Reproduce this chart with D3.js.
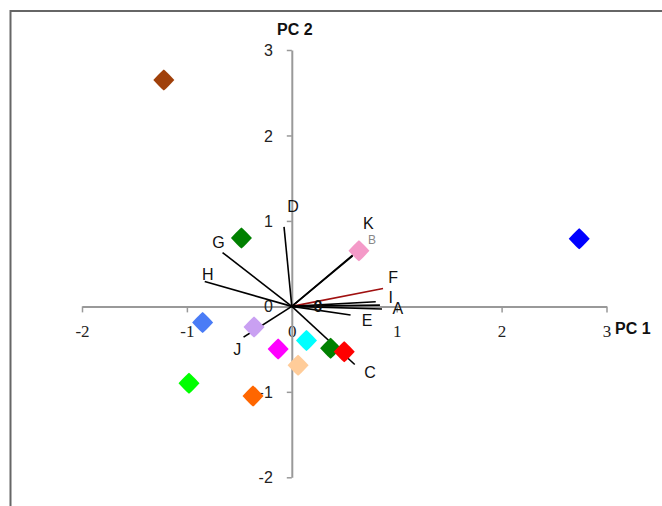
<!DOCTYPE html>
<html><head><meta charset="utf-8">
<script src="https://cdn.jsdelivr.net/npm/d3@7"></script>
<style>body{margin:0;background:#fff}svg{display:block}</style>
</head><body>
<svg id="chart" width="662" height="506"></svg>
<script>
// Scores (diamonds)
const pointX = [-1.22, 2.74, -0.48, 0.64, -0.85, -0.36, -0.13, 0.14, 0.37, 0.50, 0.06, -0.98, -0.37];
const pointY = [2.65, 0.79, 0.80, 0.65, -0.19, -0.24, -0.50, -0.40, -0.49, -0.53, -0.69, -0.90, -1.05];
const pointColors = ["#a0400a", "#0000ff", "#008000", "#f49ac8", "#4a7cf6", "#c9a0f2", "#ff00ff", "#00ffff", "#008000", "#ff0000", "#ffcc99", "#00ff00", "#ff6600"];

// Loadings (vectors from origin)
const varNames = ["D", "G", "H", "K", "B", "F", "I", "A", "A2", "E", "C", "J"];
const loadX = [-0.074, -0.66, -0.83, 0.60, 0.58, 0.87, 0.80, 0.84, 0.86, 0.56, 0.60, -0.46];
const loadY = [0.93, 0.63, 0.29, 0.62, 0.59, 0.21, 0.055, 0.015, -0.03, -0.10, -0.68, -0.36];
const loadColors = ["#000", "#000", "#000", "#000", "#000", "#a01010", "#000", "#000", "#000", "#000", "#000", "#000"];

// Variable labels
const labelText = ["D", "G", "H", "K", "B", "F", "I", "A", "E", "C", "J", "0"];
const labelX = [0.011, -0.70, -0.80, 0.730, 0.765, 0.965, 0.943, 1.012, 0.717, 0.745, -0.52, 0.25];
const labelY = [1.17, 0.75, 0.38, 0.97, 0.78, 0.34, 0.11, -0.02, -0.16, -0.77, -0.50, 0.00];

const xTicks = [-2, -1, 0, 1, 2, 3];
const yTicks = [-2, -1, 0, 1, 2, 3];

const svg = d3.select("#chart");
const x = d3.scaleLinear().domain([-2, 3]).range([82, 606.5]);
const y = d3.scaleLinear().domain([-2, 3]).range([477.3, 50]);

// frame
svg.append("rect").attr("x", 10.5).attr("y", 11).attr("width", 720).attr("height", 600)
  .attr("fill", "none").attr("stroke", "#666").attr("stroke-width", 2);

// axes
const xAxis = svg.append("g").attr("transform", `translate(0,${y(0)})`)
  .call(d3.axisBottom(x).tickValues(xTicks).tickSize(6).tickSizeOuter(0).tickPadding(13).tickFormat(d => String(d)));
const yAxis = svg.append("g").attr("transform", `translate(${x(0)},0)`)
  .call(d3.axisLeft(y).tickValues(yTicks).tickSize(5).tickSizeOuter(0).tickPadding(14).tickFormat(d => String(d)));
[xAxis, yAxis].forEach(a => {
  a.select(".domain").attr("stroke", "#999").attr("stroke-width", 2);
  a.selectAll(".tick line").attr("stroke", "#999").attr("stroke-width", 1.5);
});
xAxis.selectAll("text").attr("font-family", "Liberation Serif, serif").attr("font-size", 17).attr("fill", "#222");
yAxis.selectAll("text").attr("font-family", "Liberation Sans, Arial, sans-serif").attr("font-size", 16).attr("fill", "#222").attr("dy", "0.35em");

// loading vectors
svg.append("g").selectAll("line").data(loadX).join("line")
  .attr("x1", x(0)).attr("y1", y(0))
  .attr("x2", (d, i) => x(d)).attr("y2", (d, i) => y(loadY[i]))
  .attr("stroke", (d, i) => loadColors[i]).attr("stroke-width", 1.6);

// diamonds
svg.append("g").selectAll("path").data(pointX).join("path")
  .attr("d", "M0,-10.5 Q0.8,-10.5 10.5,0 Q0.8,10.5 0,10.5 Q-0.8,10.5 -10.5,0 Q-0.8,-10.5 0,-10.5Z")
  .attr("transform", (d, i) => `translate(${x(d)},${y(pointY[i])})`)
  .attr("fill", (d, i) => pointColors[i]);

// labels
svg.append("g").selectAll("text").data(labelText).join("text")
  .attr("x", (d, i) => x(labelX[i])).attr("y", (d, i) => y(labelY[i]))
  .attr("dy", "0.35em").attr("text-anchor", "middle")
  .attr("font-family", "Liberation Sans, Arial, sans-serif")
  .attr("font-size", (d, i) => d === "B" ? 12 : 16)
  .attr("font-weight", (d, i) => i === 11 ? "bold" : "normal")
  .attr("fill", (d, i) => d === "B" ? "#888" : "#111")
  .text(d => d);

// axis titles
svg.append("text").attr("x", 277).attr("y", 35).attr("font-family", "Liberation Sans, Arial, sans-serif")
  .attr("font-weight", "bold").attr("font-size", 16).attr("fill", "#111").text("PC 2");
svg.append("text").attr("x", 615).attr("y", 334).attr("font-family", "Liberation Sans, Arial, sans-serif")
  .attr("font-weight", "bold").attr("font-size", 16).attr("fill", "#111").text("PC 1");
</script>
</body></html>
